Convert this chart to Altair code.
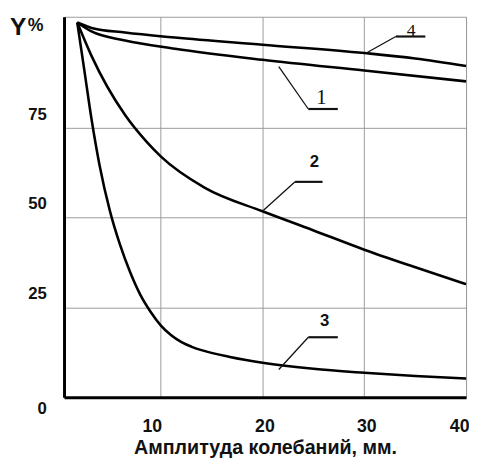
import altair as alt
import pandas as pd

# Curve data (x = amplitude, mm; y = Y %)
c1_x = [1.8, 3.2, 6.5, 11.4, 20, 30, 40]
c1_y = [104.4, 101.9, 99.4, 97.1, 94.0, 91.0, 88.0]

c4_x = [1.8, 3.2, 6.5, 11.4, 20, 30, 35, 40]
c4_y = [104.4, 102.9, 101.6, 100.2, 98.2, 95.9, 94.4, 92.3]

c2_x = [1.8, 3.2, 6.5, 8.6, 10, 14.3, 20, 24.9, 30, 34.8, 40]
c2_y = [104.4, 95.1, 78.6, 71.2, 67.1, 58.4, 51.8, 46.6, 41.1, 36.4, 31.5]

c3_x = [1.8, 2.5, 3.2, 4.0, 5.0, 6.0, 7.0, 8.0, 9.0, 10.0, 11.0, 12.0, 13.0, 14.0, 16.8, 20, 25, 30, 35, 40]
c3_y = [104.4, 91.0, 77.5, 64.5, 52.0, 42.5, 34.8, 28.5, 23.8, 20.0, 17.3, 15.4, 14.1, 13.1, 11.2, 9.6, 7.9, 6.8, 5.9, 5.2]

# Leader lines and curve numbers
lab_names = ["4", "1", "2", "3"]
lead_x0 = [30.2, 21.6, 20.1, 21.6]
lead_y0 = [95.9, 92.1, 52.1, 7.7]
lead_x1 = [33.1, 24.5, 23.2, 24.5]
lead_y1 = [100.5, 80.3, 60.0, 16.7]
lead_x2 = [36.0, 27.4, 25.9, 27.4]
lab_x = [34.6, 25.8, 25.1, 26.1]
lab_y = [102.0, 83.3, 65.5, 21.2]

x_ticks = [10, 20, 30, 40]
y_ticks = [0, 25, 50, 75]

rows = []
for name, xs, ys in [("1", c1_x, c1_y), ("4", c4_x, c4_y), ("2", c2_x, c2_y), ("3", c3_x, c3_y)]:
    for a, b in zip(xs, ys):
        rows.append({"curve": name, "x": a, "y": b})
curves = pd.DataFrame(rows)

leaders = pd.DataFrame({
    "name": lab_names, "x0": lead_x0, "y0": lead_y0,
    "x1": lead_x1, "y1": lead_y1, "x2": lead_x2,
    "lx": lab_x, "ly": lab_y,
})

FONT = "Liberation Sans"

xscale = alt.Scale(domain=[0.5, 40], nice=False, zero=False)
yscale = alt.Scale(domain=[0, 106], nice=False, zero=False)

xaxis = alt.Axis(
    values=x_ticks, title="Амплитуда колебаний, мм.", grid=True,
    gridColor="#9a9a9a", gridWidth=1, ticks=False,
    domainColor="#000000", domainWidth=3,
    labelFont=FONT, labelFontSize=18, labelFontWeight="bold", labelColor="#111111",
    labelPadding=21, labelFlush=False,
    labelOffset={"condition": [
        {"test": "datum.value == 10", "value": -9},
        {"test": "datum.value == 40", "value": -7},
    ], "value": 2},
    titleFont=FONT, titleFontSize=20, titleFontWeight="bold", titleColor="#111111",
    titlePadding=2,
)
yaxis = alt.Axis(
    values=y_ticks, title=None, grid=True,
    gridColor="#9a9a9a", gridWidth=1, ticks=False,
    domainColor="#000000", domainWidth=3,
    labelFont=FONT, labelFontSize=17, labelFontWeight="bold", labelColor="#111111",
    labelPadding=18,
    labelOffset={"condition": {"test": "datum.value == 0", "value": 12}, "value": -14},
)

lines = alt.Chart(curves).mark_line(
    color="#000000", strokeWidth=2.6, interpolate="monotone"
).encode(
    x=alt.X("x:Q", scale=xscale, axis=xaxis),
    y=alt.Y("y:Q", scale=yscale, axis=yaxis),
    detail="curve:N",
)

diag = alt.Chart(leaders).mark_rule(color="#111111", strokeWidth=1.3).encode(
    x=alt.X("x0:Q", scale=xscale), y=alt.Y("y0:Q", scale=yscale),
    x2="x1:Q", y2="y1:Q",
)
horiz = alt.Chart(leaders).mark_rule(color="#111111", strokeWidth=2.2).encode(
    x=alt.X("x1:Q", scale=xscale), y=alt.Y("y1:Q", scale=yscale),
    x2="x2:Q",
)

sans_labels = alt.Chart(leaders).transform_filter(
    "datum.name == '2' || datum.name == '3'"
).mark_text(font=FONT, fontSize=17, fontWeight="bold", color="#111111", baseline="middle").encode(
    x=alt.X("lx:Q", scale=xscale), y=alt.Y("ly:Q", scale=yscale), text="name:N"
)
serif_4 = alt.Chart(leaders).transform_filter("datum.name == '4'").mark_text(
    font="Liberation Serif", fontSize=18, color="#111111", baseline="middle"
).encode(x=alt.X("lx:Q", scale=xscale), y=alt.Y("ly:Q", scale=yscale), text="name:N")
serif_1 = alt.Chart(leaders).transform_filter("datum.name == '1'").mark_text(
    font="Liberation Serif", fontSize=21, color="#111111", baseline="middle"
).encode(x=alt.X("lx:Q", scale=xscale), y=alt.Y("ly:Q", scale=yscale), text="name:N")

ytitle_y = alt.Chart(pd.DataFrame({"t": ["Y"]})).mark_text(
    font=FONT, fontSize=25, fontWeight="bold", color="#111111", align="left", baseline="alphabetic"
).encode(x=alt.value(-55), y=alt.value(19), text="t:N")
ytitle_p = alt.Chart(pd.DataFrame({"t": ["%"]})).mark_text(
    font=FONT, fontSize=18, fontWeight="bold", color="#111111", align="left", baseline="alphabetic"
).encode(x=alt.value(-37), y=alt.value(14), text="t:N")

chart = alt.layer(
    lines, diag, horiz, sans_labels, serif_4, serif_1, ytitle_y, ytitle_p
).properties(
    width=409, height=387,
    padding={"left": 57, "top": 5, "right": 3, "bottom": 60},
    autosize=alt.AutoSizeParams(type="none"),
    background="#ffffff",
).configure_view(
    stroke="#9a9a9a", strokeWidth=1
)

chart.save("out.html", embed_options={"renderer": "svg", "actions": False})
